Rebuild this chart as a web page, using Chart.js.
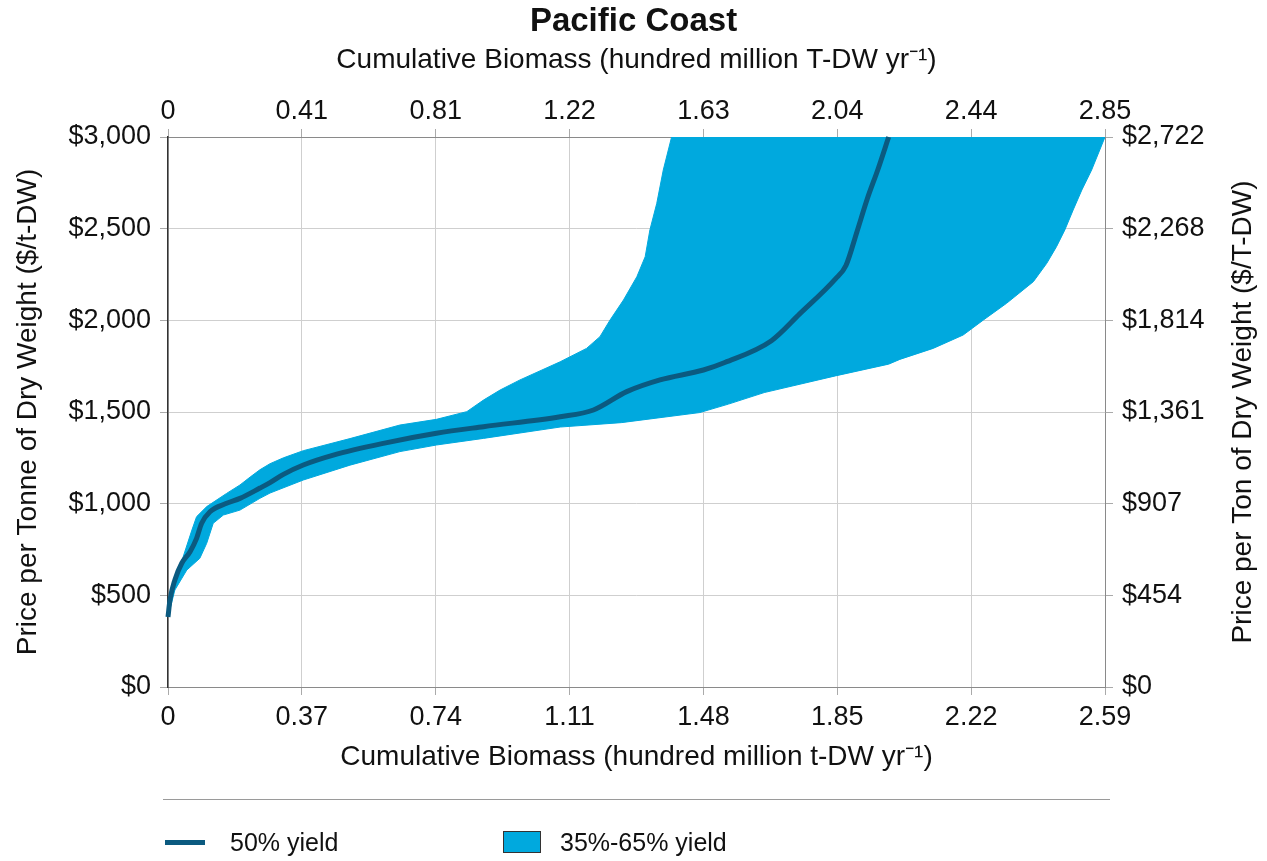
<!DOCTYPE html>
<html>
<head>
<meta charset="utf-8">
<title>Pacific Coast</title>
<script src="https://cdn.jsdelivr.net/npm/chart.js@4.4.1/dist/chart.umd.min.js"></script>
<style>
  html, body { margin: 0; padding: 0; background: #fff; }
  #wrap { position: relative; width: 1267px; height: 861px; }
  #chart { position: absolute; left: 0; top: 0; }
  #legend {
    position: absolute; left: 163px; top: 799px; width: 947px; height: 60px;
    border-top: 1px solid #9a9a9a;
    font-family: "Liberation Sans", Arial, sans-serif; font-size: 25px; color: #111;
  }
  #legend .item { position: absolute; top: 28px; line-height: 28px; white-space: nowrap; }
  #legend .line { position: absolute; width: 40px; height: 5px; top: 12px; left: 0; }
  #legend .box { position: absolute; width: 36px; height: 20px; top: 3px; left: 0; border: 1px solid #333; }
</style>
</head>
<body>
<div id="wrap">
  <canvas id="chart" width="1267" height="861"></canvas>
  <div id="legend"></div>
</div>
<script>
// Axis tick labels
const bottomTicks = ['0', '0.37', '0.74', '1.11', '1.48', '1.85', '2.22', '2.59'];
const topTicks = ['0', '0.41', '0.81', '1.22', '1.63', '2.04', '2.44', '2.85'];
const leftTicks = [0, 500, 1000, 1500, 2000, 2500, 3000];
const rightTicks = ['$0', '$454', '$907', '$1,361', '$1,814', '$2,268', '$2,722'];

// 50% yield curve (hundred million t-DW yr-1, $/t-DW)
const yield50X = [0, 0.0055, 0.019, 0.038, 0.061, 0.079, 0.093, 0.116, 0.162, 0.199, 0.254, 0.282, 0.319, 0.374,
  0.457, 0.595, 0.742, 0.872, 1.084, 1.176, 1.268, 1.36, 1.48, 1.539, 1.668, 1.746, 1.845, 1.874, 1.904,
  1.933, 1.963, 1.992];
const yield50Y = [382, 475, 584, 675, 738, 811, 893, 956, 1002, 1029, 1085, 1115, 1160, 1211,
  1265, 1329, 1384, 1420, 1474, 1511, 1611, 1675, 1729, 1770, 1889, 2035, 2226, 2299, 2481,
  2663, 2827, 3000];

// 35% yield edge of the band (left / upper)
const yield35X = [0, 0.019, 0.042, 0.066, 0.079, 0.107, 0.162, 0.199, 0.227, 0.254, 0.282, 0.319, 0.374, 0.503,
  0.641, 0.742, 0.826, 0.872, 0.918, 0.973, 1.084, 1.157, 1.194, 1.222, 1.259, 1.296, 1.319, 1.332, 1.351,
  1.369, 1.392, 2.59];
const yield35Y = [382, 560, 711, 856, 929, 984, 1056, 1102, 1145, 1185, 1218, 1250, 1289, 1355,
  1429, 1460, 1502, 1565, 1620, 1675, 1774, 1847, 1911, 2002, 2111, 2238, 2347, 2493, 2638,
  2820, 3000, 3000];

// 65% yield edge of the band (right / lower)
const yield65X = [0, 0.019, 0.052, 0.088, 0.107, 0.125, 0.153, 0.199, 0.254, 0.282, 0.374, 0.503, 0.641, 0.742,
  0.872, 1.084, 1.253, 1.47, 1.549, 1.648, 1.845, 1.992, 2.023, 2.115, 2.198, 2.254, 2.318, 2.392, 2.429,
  2.456, 2.479, 2.502, 2.526, 2.553, 2.59];
const yield65Y = [382, 529, 638, 702, 784, 893, 938, 965, 1029, 1058, 1129, 1210, 1284, 1320,
  1356, 1418, 1442, 1497, 1543, 1606, 1697, 1761, 1787, 1847, 1920, 2002, 2093, 2211, 2311,
  2402, 2493, 2602, 2711, 2820, 3000];

const lineColor = '#0b5a80';
const bandColor = '#00a9de';
const textColor = '#111';
const fontFamily = '"Liberation Sans", Arial, sans-serif';

function toPoints(xs, ys) {
  return xs.map((x, i) => ({ x: x, y: ys[i] }));
}

// place ticks evenly between min and max
function evenTicks(labels) {
  return function(scale) {
    const n = labels.length - 1;
    scale.ticks = labels.map((l, i) => ({ value: scale.min + (scale.max - scale.min) * i / n }));
  };
}

// right axis title reads bottom to top
const rightTitle = {
  id: 'rightTitle',
  afterDraw(chart, args, opts) {
    const s = chart.scales.y2;
    const ctx = chart.ctx;
    ctx.save();
    ctx.translate(opts.x, (s.top + s.bottom) / 2);
    ctx.rotate(-Math.PI / 2);
    ctx.font = opts.font;
    ctx.fillStyle = textColor;
    ctx.textAlign = 'center';
    ctx.textBaseline = 'middle';
    ctx.fillText(opts.text, 0, 0);
    ctx.restore();
  }
};

const tickFont = { family: fontFamily, size: 27 };
const titleFont = { family: fontFamily, size: 28 };

new Chart(document.getElementById('chart'), {
  type: 'line',
  data: {
    datasets: [{
      label: '50% yield',
      data: toPoints(yield50X, yield50Y),
      borderColor: lineColor,
      borderWidth: 5,
      pointRadius: 0,
      cubicInterpolationMode: 'monotone',
      fill: false,
      clip: 4
    }, {
      label: '35%-65% yield',
      data: toPoints(yield35X, yield35Y),
      borderColor: bandColor,
      backgroundColor: bandColor,
      borderWidth: 1,
      pointRadius: 0,
      fill: { target: 2 }
    }, {
      label: '65% edge',
      data: toPoints(yield65X, yield65Y),
      borderColor: bandColor,
      borderWidth: 1,
      pointRadius: 0,
      fill: false
    }]
  },
  options: {
    responsive: false,
    animation: false,
    layout: { padding: { top: 0, left: 0, right: 0, bottom: 54 } },
    plugins: {
      legend: { display: false },
      tooltip: { enabled: false },
      title: {
        display: true,
        text: 'Pacific Coast',
        color: textColor,
        font: { family: fontFamily, size: 33, weight: 'bold' },
        padding: { top: 2, bottom: 0 }
      },
      rightTitle: {
        text: 'Price per Ton of Dry Weight ($/T-DW)',
        font: '28px ' + fontFamily,
        x: 1243
      }
    },
    scales: {
      x: {
        type: 'linear',
        position: 'bottom',
        min: 0,
        max: 2.59,
        afterBuildTicks: evenTicks(bottomTicks),
        afterFit: s => { s.height = 120; },
        ticks: {
          color: textColor, font: tickFont, padding: 6, maxRotation: 0, autoSkip: false,
          callback: (v, i) => bottomTicks[i]
        },
        grid: { color: '#cfcfcf', tickLength: 8, tickColor: '#aaa' },
        border: { color: '#8a8a8a' },
        title: {
          display: true,
          text: 'Cumulative Biomass (hundred million t-DW yr\u207B\u00B9)',
          color: textColor,
          font: titleFont,
          padding: { top: 0, bottom: 33 }
        }
      },
      x2: {
        type: 'linear',
        position: 'top',
        min: 0,
        max: 2.85,
        afterBuildTicks: evenTicks(topTicks),
        afterFit: s => { s.height = 95.4; },
        ticks: {
          color: textColor, font: tickFont, padding: 1, maxRotation: 0, autoSkip: false,
          callback: (v, i) => topTicks[i]
        },
        grid: { drawOnChartArea: false, tickLength: 8, tickColor: '#aaa' },
        border: { color: '#8a8a8a' },
        title: {
          display: true,
          text: 'Cumulative Biomass (hundred million T-DW yr\u207B\u00B9)',
          color: textColor,
          font: titleFont,
          padding: { top: 1.6, bottom: 0 }
        }
      },
      y: {
        type: 'linear',
        position: 'left',
        min: 0,
        max: 3000,
        afterBuildTicks: s => { s.ticks = leftTicks.map(v => ({ value: v })); },
        afterFit: s => { s.width = 168; },
        ticks: {
          color: textColor, font: tickFont, padding: 9,
          callback: v => '$' + v.toLocaleString('en-US')
        },
        grid: { color: '#cfcfcf', tickLength: 8, tickColor: '#aaa' },
        border: { color: '#333', width: 1.5 },
        title: {
          display: true,
          text: 'Price per Tonne of Dry Weight ($/t-DW)',
          color: textColor,
          font: titleFont,
          padding: { top: 11.2, bottom: 0 }
        }
      },
      y2: {
        type: 'linear',
        position: 'right',
        min: 0,
        max: 2722,
        afterBuildTicks: evenTicks(rightTicks),
        afterFit: s => { s.width = 162; },
        ticks: {
          color: textColor, font: tickFont, padding: 9,
          callback: (v, i) => rightTicks[i]
        },
        grid: { drawOnChartArea: false, tickLength: 8, tickColor: '#aaa' },
        border: { color: '#8a8a8a' },
        title: { display: false }
      }
    }
  },
  plugins: [rightTitle]
});

// legend below the separator line
const legendItems = [
  { label: '50% yield', kind: 'line', color: lineColor, left: 2, textLeft: 67 },
  { label: '35%-65% yield', kind: 'box', color: bandColor, left: 340, textLeft: 397 }
];
const legend = document.getElementById('legend');
legendItems.forEach(item => {
  const mark = document.createElement('span');
  mark.className = item.kind;
  mark.style.background = item.color;
  mark.style.left = item.left + 'px';
  mark.style.top = (item.kind === 'line' ? 40 : 31) + 'px';
  legend.appendChild(mark);
  const text = document.createElement('span');
  text.className = 'item';
  text.style.left = item.textLeft + 'px';
  text.textContent = item.label;
  legend.appendChild(text);
});
</script>
</body>
</html>
